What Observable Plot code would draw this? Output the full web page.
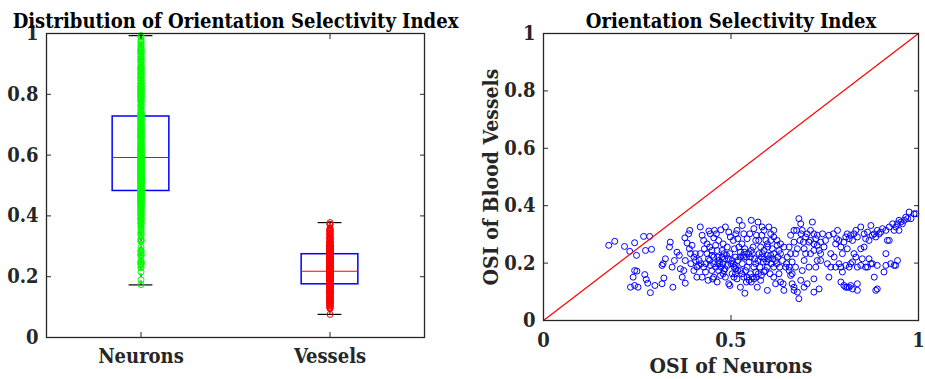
<!DOCTYPE html>
<html>
<head>
<meta charset="utf-8">
<script src="https://cdn.jsdelivr.net/npm/d3@7"></script>
<script src="https://cdn.jsdelivr.net/npm/@observablehq/plot@0.6"></script>
<style>
  body { margin: 0; background: #fff; }
  #wrap { position: relative; width: 925px; height: 379px; overflow: hidden; }
  #left, #right { position: absolute; top: 0; }
  #left { left: 0; }
  #right { left: 470px; }
</style>
</head>
<body>
<div id="wrap"><div id="left"></div><div id="right"></div></div>
<script>
// Orientation selectivity index (OSI) for each recorded neuron / blood-vessel pair
const neuronOSI = [
  0.174,0.190,0.216,0.230,0.243,0.248,0.267,0.283,0.272,0.288,0.243,0.249,0.239,0.270,0.274,0.278,0.232,0.243,0.252,0.285,0.297,0.316,0.321,0.316,0.319,0.325,
  0.338,0.336,0.343,0.345,0.349,0.356,0.362,0.365,0.370,0.374,0.378,0.377,0.383,0.378,
  0.387,0.390,0.396,0.392,0.401,0.405,0.409,0.414,0.401,0.409,0.418,0.423,0.427,0.429,0.436,0.440,0.445,0.449,0.454,0.432,0.423,0.441,0.445,0.454,0.459,0.463,0.465,0.470,0.467,0.472,0.439,0.451,0.463,0.473,0.454,0.418,0.405,0.393,0.389,
  0.485,0.494,0.498,0.490,0.497,0.503,0.508,0.512,0.516,0.494,0.497,0.485,0.481,0.478,0.490,0.500,0.516,0.522,0.530,0.534,0.543,0.537,0.534,0.530,0.543,0.552,0.557,0.548,0.537,0.525,0.554,0.561,0.559,0.552,0.548,0.521,0.512,0.525,0.509,0.525,0.539,0.561,0.543,0.508,0.503,
  0.568,0.572,0.583,0.588,0.574,0.579,0.588,0.597,0.606,0.610,0.614,0.619,0.607,0.597,0.586,0.592,0.604,0.614,0.619,0.597,0.579,0.570,0.601,0.606,0.614,0.623,0.628,0.632,0.637,0.646,0.614,0.577,0.628,0.639,0.632,0.641,0.597,0.588,0.568,
  0.659,0.681,0.686,0.690,0.668,0.677,0.672,0.663,0.655,0.659,0.663,0.668,0.668,0.681,0.677,0.686,0.690,0.695,0.699,0.708,0.712,0.717,0.721,0.726,0.730,0.735,0.730,0.726,0.721,0.721,0.735,0.739,0.739,0.703,0.695,0.655,0.684,0.695,0.712,0.721,0.708,0.672,
  0.748,0.752,0.761,0.766,0.757,0.766,0.761,0.775,0.779,0.784,0.788,0.793,0.797,0.788,0.793,0.797,0.793,0.801,0.806,0.810,0.815,0.819,0.824,0.801,0.806,0.810,0.815,0.819,0.824,0.828,0.806,0.815,0.819,0.828,0.833,0.837,0.837,0.824,0.810,0.779,0.773,0.782,
  0.833,0.837,0.846,0.855,0.859,0.864,0.868,0.873,0.877,0.882,0.886,0.890,0.895,0.899,0.904,0.855,0.864,0.868,0.873,0.877,0.882,0.890,0.886,0.890,0.859,0.850,0.846,0.913,0.913,0.908,0.913,0.917,0.846,0.837,
  0.922,0.931,0.935,0.939,0.944,0.948,0.953,0.957,0.962,0.966,0.971,0.975,0.980,0.988,0.993,0.926,0.935,0.944,0.939,0.922,0.948,
  0.476,0.483,0.488,0.493,0.506,0.511,0.518,0.524,0.531,0.536,0.541,0.547,0.554,0.557,0.563,0.566,0.572,0.575,0.581,0.584,0.589,0.595,0.600,0.476,0.481,0.513,0.518,0.529,0.534,0.541,0.554,0.561,0.566,0.573,0.581,
  0.454,0.459,0.465,0.468,0.473,0.479,0.484,0.443,0.449,0.433,0.427,0.420,0.415,0.436,0.443,0.449,0.456,0.461,0.467,0.479,0.506,0.513,0.518,0.529,0.550,0.566,0.582,0.593,0.598,0.614,0.623,0.632,0.641,0.625,0.630,0.606,0.611,0.622,
  0.675,0.687,0.699,0.703,0.712,0.721,0.730,0.739,0.744,0.693,0.668,0.659,0.650,0.648,0.655,0.663
];
const vesselOSI = [
  0.262,0.276,0.258,0.241,0.271,0.227,0.293,0.293,0.244,0.248,0.174,0.172,0.151,0.160,0.143,0.130,0.116,0.122,0.116,0.097,0.122,0.128,0.148,0.192,0.198,0.215,
  0.273,0.256,0.186,0.116,0.209,0.238,0.227,0.180,0.151,0.174,0.130,0.288,0.270,0.209,
  0.302,0.314,0.262,0.233,0.221,0.209,0.186,0.192,0.174,0.151,0.326,0.297,0.279,0.250,0.233,0.215,0.192,0.174,0.151,0.169,0.151,0.312,0.302,0.288,0.262,0.244,0.221,0.198,0.174,0.157,0.140,0.145,0.134,0.316,0.221,0.233,0.233,0.198,0.250,
  0.326,0.308,0.291,0.256,0.233,0.209,0.186,0.163,0.145,0.128,0.122,0.151,0.174,0.198,0.192,0.198,0.314,0.349,0.331,0.302,0.285,0.250,0.221,0.198,0.186,0.163,0.151,0.140,0.095,0.116,0.349,0.320,0.256,0.221,0.204,0.256,0.221,0.174,0.250,0.238,0.174,0.186,0.151,0.151,0.163,
  0.297,0.343,0.326,0.314,0.279,0.256,0.244,0.267,0.279,0.250,0.233,0.209,0.198,0.186,0.204,0.174,0.163,0.151,0.128,0.105,0.140,0.116,0.326,0.302,0.291,0.262,0.244,0.233,0.209,0.186,0.186,0.186,0.163,0.128,0.134,0.105,0.227,0.169,0.151,
  0.297,0.355,0.337,0.314,0.273,0.250,0.233,0.204,0.186,0.157,0.128,0.116,0.105,0.076,0.099,0.140,0.174,0.209,0.233,0.273,0.314,0.343,0.302,0.285,0.262,0.244,0.209,0.186,0.145,0.099,0.110,0.209,0.233,0.128,0.116,0.256,0.279,0.250,0.233,0.244,0.186,0.186,
  0.256,0.279,0.297,0.233,0.198,0.186,0.151,0.221,0.267,0.314,0.279,0.256,0.233,0.198,0.186,0.169,0.134,0.122,0.116,0.116,0.116,0.122,0.110,0.273,0.291,0.302,0.285,0.297,0.279,0.302,0.192,0.186,0.198,0.233,0.221,0.128,0.105,0.204,0.250,0.186,0.302,0.285,
  0.314,0.291,0.326,0.302,0.285,0.308,0.279,0.331,0.297,0.302,0.291,0.314,0.302,0.308,0.320,0.256,0.186,0.215,0.198,0.198,0.151,0.192,0.105,0.110,0.186,0.215,0.192,0.314,0.192,0.169,0.233,0.279,0.250,0.186,
  0.326,0.337,0.314,0.326,0.337,0.349,0.343,0.337,0.349,0.360,0.355,0.378,0.355,0.372,0.372,0.198,0.192,0.209,0.192,0.279,0.314,
  0.221,0.215,0.227,0.215,0.198,0.192,0.209,0.221,0.227,0.238,0.221,0.233,0.244,0.233,0.215,0.198,0.209,0.233,0.221,0.233,0.215,0.204,0.215,0.244,0.233,0.180,0.174,0.163,0.151,0.134,0.134,0.145,0.169,0.163,0.157,
  0.198,0.186,0.198,0.209,0.186,0.163,0.180,0.209,0.227,0.198,0.186,0.198,0.209,0.267,0.256,0.244,0.314,0.302,0.279,0.267,0.279,0.302,0.285,0.267,0.302,0.279,0.297,0.279,0.256,0.314,0.279,0.267,0.256,0.221,0.186,0.227,0.215,0.198,
  0.314,0.302,0.291,0.302,0.279,0.267,0.297,0.273,0.302,0.273,0.314,0.233,0.221,0.198,0.174,0.163
];

// Box-plot summary per group: quartiles, median and whisker ends
const groups = ["Neurons", "Vessels"];
const boxQ1 = [0.482, 0.175];
const boxMedian = [0.592, 0.218];
const boxQ3 = [0.727, 0.274];
const whiskerLow = [0.173, 0.076];
const whiskerHigh = [0.993, 0.378];

// Axis ticks
const osiTicks = [0, 0.2, 0.4, 0.6, 0.8, 1];
const neuronTicks = [0, 0.5, 1];
const unitDiagonal = [0, 1];

const FONT = "'DejaVu Serif', serif";
const INK = "#262626";
const boxHalf = 0.15;   // half box width in group units
const capHalf = 0.063;  // half whisker-cap width in group units
const gi = d3.range(groups.length);
const gx = i => i + 1;

const baseStyle = {
  fontFamily: FONT, fontWeight: "bold", fontSize: "20px", fontStretch: "condensed",
  color: INK, background: "none", overflow: "visible"
};

// inward tick marks on all four sides of a frame
function boxTicks(xTicks, yTicks) {
  const blank = () => "";
  return [
    Plot.axisY({anchor: "left", ticks: yTicks, tickSize: 5, dx: 5, tickFormat: blank, label: null}),
    Plot.axisY({anchor: "right", ticks: yTicks, tickSize: 5, dx: -5, tickFormat: blank, label: null}),
    Plot.axisX({anchor: "bottom", ticks: xTicks, tickSize: 5, dy: -5, tickFormat: blank, label: null}),
    Plot.axisX({anchor: "top", ticks: xTicks, tickSize: 5, dy: 5, tickFormat: blank, label: null})
  ];
}

const left = Plot.plot({
  width: 470, height: 379,
  marginLeft: 46, marginRight: 46, marginTop: 33, marginBottom: 42,
  x: {type: "linear", domain: [0.5, 2.5]},
  y: {domain: [0, 1]},
  style: baseStyle,
  marks: [
    Plot.ruleX(gi, {x: gx, y1: i => whiskerLow[i], y2: i => boxQ1[i], stroke: "#000", strokeDasharray: "4,3"}),
    Plot.ruleX(gi, {x: gx, y1: i => boxQ3[i], y2: i => whiskerHigh[i], stroke: "#000", strokeDasharray: "4,3"}),
    Plot.ruleY(gi, {y: i => whiskerLow[i], x1: i => gx(i) - capHalf, x2: i => gx(i) + capHalf, stroke: "#000", strokeWidth: 1.2}),
    Plot.ruleY(gi, {y: i => whiskerHigh[i], x1: i => gx(i) - capHalf, x2: i => gx(i) + capHalf, stroke: "#000", strokeWidth: 1.2}),
    Plot.rect(gi, {x1: i => gx(i) - boxHalf, x2: i => gx(i) + boxHalf, y1: i => boxQ1[i], y2: i => boxQ3[i], fill: "none", stroke: "#0000ff", strokeWidth: 1.5}),
    Plot.ruleY(gi, {y: i => boxMedian[i], x1: i => gx(i) - boxHalf, x2: i => gx(i) + boxHalf, stroke: "#ff0000", strokeWidth: 1.1}),
    Plot.dot(neuronOSI, {x: () => 1, y: d => d, r: 3, stroke: "#00ff00", strokeWidth: 1}),
    Plot.dot(vesselOSI, {x: () => 2, y: d => d, r: 3, stroke: "#ff0000", strokeWidth: 1}),
    Plot.frame({stroke: INK, strokeWidth: 1.3}),
    ...boxTicks([1, 2], osiTicks),
    Plot.axisY({anchor: "left", ticks: osiTicks, tickSize: 0, tickPadding: 8, tickFormat: d => String(d), label: null, fontSize: 20}),
    Plot.axisX({anchor: "bottom", ticks: [1, 2], tickSize: 0, tickPadding: 11, tickFormat: d => groups[d - 1], label: null, fontSize: 20}),
    Plot.text(["Distribution of Orientation Selectivity Index"], {text: d => d, frameAnchor: "top", dy: -20, fontSize: 20, fill: "#000"})
  ]
});

const right = Plot.plot({
  width: 455, height: 379,
  marginLeft: 73, marginRight: 7, marginTop: 33, marginBottom: 59,
  x: {domain: [0, 1]},
  y: {domain: [0, 1]},
  style: baseStyle,
  marks: [
    Plot.dot(neuronOSI, {x: d => d, y: (d, i) => vesselOSI[i], r: 3, stroke: "#0000ff", strokeWidth: 1}),
    Plot.line(unitDiagonal, {x: d => d, y: d => d, stroke: "#ff0000", strokeWidth: 1.2}),
    Plot.frame({stroke: INK, strokeWidth: 1.3}),
    ...boxTicks(neuronTicks, osiTicks),
    Plot.axisY({anchor: "left", ticks: osiTicks, tickSize: 0, tickPadding: 8, tickFormat: d => String(d), label: null, fontSize: 20}),
    Plot.axisX({anchor: "bottom", ticks: neuronTicks, tickSize: 0, tickPadding: 12, tickFormat: d => String(d), label: null, fontSize: 20}),
    Plot.text(["Orientation Selectivity Index"], {text: d => d, frameAnchor: "top", dy: -20, fontSize: 20, fill: "#000"}),
    Plot.text(["OSI of Blood Vessels"], {text: d => d, frameAnchor: "left", textAnchor: "middle", dx: -52, rotate: -90, fontSize: 21}),
    Plot.text(["OSI of Neurons"], {text: d => d, frameAnchor: "bottom", dy: 52, fontSize: 21})
  ]
});

document.getElementById("left").append(left);
document.getElementById("right").append(right);
</script>
</body>
</html>
